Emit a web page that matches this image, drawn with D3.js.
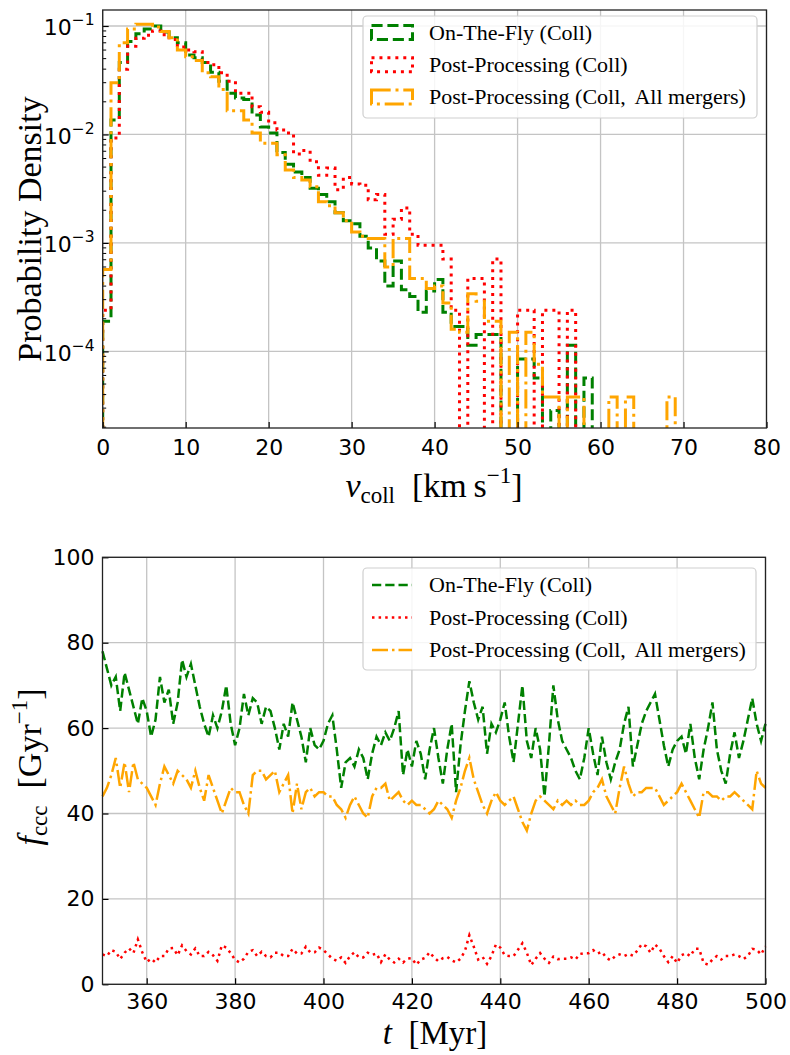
<!DOCTYPE html>
<html>
<head>
<meta charset="utf-8">
<script src="https://cdn.jsdelivr.net/npm/d3@7"></script>
<style>
body { margin: 0; background: #fff; }
svg { display: block; }
.tick text { font-family: "DejaVu Sans", sans-serif; font-size: 22px; fill: #000; }
.tex { font-family: "Liberation Serif", serif; fill: #000; }
</style>
</head>
<body>
<script>
// ---- data ----
// histogram of collision velocities, bins of 1 km/s starting at 0
var binStart = 0, binWidth = 1;
var pdfOnTheFly = [
    1.9e-4, 0.0136, 0.046, 0.072, 0.085, 0.094, 0.100, 0.088, 0.078, 0.070,
    0.054, 0.051, 0.046, 0.0375, 0.031, 0.024, 0.0217, 0.021, 0.0151, 0.0117,
    0.0103, 0.0068, 0.0053, 0.0045, 0.0040, 0.0032, 0.0028, 0.0024, 0.0019, 0.0016,
    0.0015, 0.00115, 0.0009, 0.00068, 0.0004, 0.00068, 0.00037, 0.00032, 0.00023, 0.00036,
    0.00046, 0.00023, 0.00017, 0.00017, 1.14e-4, 1.43e-4, 1.43e-4, 1.43e-4, 0, 0,
    8.5e-5, 8.5e-5, 5.7e-5, 0, 2.85e-5, 0, 1.14e-4, 0, 5.7e-5, 0,
    0, 0, 0, 0, 0, 0, 0, 0, 0, 0
];
var pdfPostProc = [
    2.4e-4, 0.0093, 0.040, 0.065, 0.077, 0.082, 0.090, 0.083, 0.075, 0.064,
    0.060, 0.058, 0.046, 0.044, 0.037, 0.031, 0.024, 0.024, 0.018, 0.016,
    0.0128, 0.0110, 0.0103, 0.0066, 0.0071, 0.0056, 0.0042, 0.0049, 0.0031, 0.0040,
    0.0035, 0.0034, 0.0025, 0.0028, 0.0012, 0.00165, 0.0021, 0.0012, 0.00095, 0.00095,
    0.00095, 0.00071, 0.00024, 0, 0.00047, 0.00047, 0, 0.00071, 0, 0,
    0.00024, 0.00024, 0, 0.00024, 0.00024, 0, 0.00024, 0, 0, 0,
    0, 0, 0, 0, 0, 0, 0, 0, 0, 0
];
var pdfPostProcAll = [
    5.7e-4, 0.030, 0.070, 0.094, 0.104, 0.104, 0.098, 0.089, 0.078, 0.060,
    0.052, 0.048, 0.037, 0.034, 0.026, 0.0165, 0.0165, 0.0136, 0.0103, 0.0083,
    0.0083, 0.0065, 0.0047, 0.0040, 0.0038, 0.0033, 0.0024, 0.0022, 0.0019, 0.0016,
    0.00126, 0.00115, 0.0011, 0.0011, 0.0006, 0.0011, 0.0011, 0.00047, 0.00047, 0.00038,
    0.00040, 0.00028, 0.00016, 0.00015, 0.00034, 0.00029, 0.00019, 0.00019, 0, 0.00015,
    0, 0.00015, 7.6e-5, 3.8e-5, 3.8e-5, 0, 3.8e-5, 3.8e-5, 0, 0,
    0, 3.8e-5, 0, 3.8e-5, 0, 0, 0, 0, 3.8e-5, 0
];

// collision rate vs time, one value per Myr from 350 to 500
var timeMyr = d3.range(350, 501);
var rateOnTheFly = [
    78, 74, 70, 72, 64, 73, 69, 65, 61, 67,
    64, 58, 62, 72, 66, 69, 61, 66, 76, 72,
    75, 70, 65, 61, 58, 63, 60, 64, 70, 61,
    56, 60, 68, 63, 67, 66, 61, 65, 64, 60,
    55, 61, 58, 66, 62, 58, 52, 60, 56, 55,
    57, 61, 63, 55, 46, 52, 53, 51, 55, 53,
    48, 54, 58, 56, 59, 57, 60, 64, 49, 55,
    51, 57, 54, 48, 55, 60, 53, 47, 55, 61,
    45, 56, 64, 71, 66, 62, 65, 54, 61, 59,
    62, 66, 58, 52, 61, 70, 57, 53, 60, 55,
    44, 56, 70, 62, 57, 55, 53, 50, 48, 53,
    60, 54, 49, 58, 52, 48, 52, 55, 61, 65,
    51, 56, 61, 64, 66, 68, 62, 56, 51, 55,
    57, 58, 54, 61, 53, 48, 55, 60, 66, 55,
    50, 47, 54, 59, 53, 57, 62, 67, 61, 57,
    61
];
var ratePostProc = [
    7.0, 6.6, 8.0, 7.6, 5.9, 7.4, 8.4, 7.3, 10.5, 7.5,
    5.2, 6.0, 5.1, 6.6, 6.6, 8.4, 8.5, 6.8, 9.1, 7.8,
    7.0, 8.4, 6.6, 6.6, 7.6, 6.8, 5.5, 9.1, 8.6, 7.3,
    5.7, 5.1, 6.0, 7.6, 8.0, 6.6, 7.6, 6.6, 6.3, 7.4,
    7.4, 6.6, 6.6, 8.3, 7.2, 7.2, 8.8, 7.5, 7.5, 8.6,
    8.0, 7.0, 6.0, 5.5, 6.3, 5.0, 6.6, 7.5, 6.3, 6.3,
    7.4, 6.9, 7.2, 5.2, 7.0, 5.8, 5.1, 6.0, 5.1, 6.0,
    6.1, 4.6, 5.8, 6.2, 7.5, 6.3, 5.4, 6.1, 6.4, 5.6,
    5.1, 6.0, 7.8, 11.5, 8.8, 5.8, 6.4, 4.8, 6.6, 9.3,
    8.6, 6.8, 6.6, 6.6, 8.1, 9.6, 7.4, 4.5, 6.0, 7.3,
    6.0, 5.0, 6.5, 5.9, 6.0, 6.0, 6.3, 5.8, 7.1, 7.3,
    7.3, 8.0, 7.2, 7.6, 6.2, 5.6, 6.6, 7.0, 6.6, 7.1,
    6.7, 7.9, 9.4, 8.9, 7.4, 9.3, 8.4, 6.6, 5.2, 6.6,
    5.0, 6.8, 7.3, 6.6, 8.3, 8.3, 5.0, 4.6, 5.8, 6.6,
    5.8, 6.6, 6.6, 7.0, 6.6, 5.9, 6.6, 8.3, 8.1, 7.0,
    8.9
];
var ratePostProcAll = [
    44, 46, 49, 53, 46, 52, 45, 52, 48, 47,
    46, 44, 42, 47, 51, 49, 47, 50, 49, 48,
    46, 50, 46, 43, 49, 46, 43, 40, 43, 46,
    45, 45, 42, 40, 49, 50, 50, 48, 49, 50,
    45, 47, 49, 40, 47, 41, 45, 46, 44, 45,
    45, 44, 44, 42, 41, 39, 42, 44, 42, 40,
    39, 44, 46, 46, 47, 43, 44, 45, 43, 42,
    43, 42, 42, 41, 40, 41, 43, 42, 41, 39,
    43, 46, 50, 53, 48, 45, 42, 40, 43, 45,
    43, 42, 43, 44, 41, 38, 36, 40, 43, 44,
    43, 42, 41, 43, 42, 43, 42, 43, 42, 42,
    43, 45, 46, 48, 44, 42, 40, 46, 51, 47,
    44, 45, 45, 46, 46, 46, 44, 42, 43, 44,
    45, 47, 45, 43, 41, 39, 45, 45, 44, 44,
    43, 44, 44, 45, 44, 43, 42, 41, 50, 47,
    46
];

var seriesNames = ["On-The-Fly (Coll)", "Post-Processing (Coll)", "Post-Processing (Coll,\u2009 All mergers)"];
var velTicks = [0, 10, 20, 30, 40, 50, 60, 70, 80];
var pdfTicks = [1e-4, 1e-3, 1e-2, 1e-1];
var pdfTickExp = ["\u22124", "\u22123", "\u22122", "\u22121"];
var timeTicks = [360, 380, 400, 420, 440, 460, 480, 500];
var rateTicks = [0, 20, 40, 60, 80, 100];

// ---- styles ----
var colors = ["green", "red", "orange"];
var dashTop = ["11.1,4.8", "3,4.95", "19.2,4.8,3,4.8"];
var dashBot = ["9.25,4", "2.5,4.1", "16,4,2.5,4"];

var svg = d3.select("body").append("svg")
    .attr("width", 790)
    .attr("height", 1055);

// ================= top panel: histogram =================
var pA = { left: 102.7, right: 766.5, top: 10, bottom: 428 };

var xV = d3.scaleLinear().domain([0, 80]).range([pA.left, pA.right]);
var yP = d3.scaleLog().domain([1.967e-5, 0.1404]).range([pA.bottom, pA.top]);

svg.append("clipPath").attr("id", "clipA")
    .append("rect")
    .attr("x", pA.left).attr("y", pA.top)
    .attr("width", pA.right - pA.left).attr("height", pA.bottom - pA.top);

var gridA = svg.append("g").attr("stroke", "#c4c4c4").attr("stroke-width", 1.3);
gridA.selectAll(".gx").data(velTicks).enter().append("line")
    .attr("x1", d => xV(d)).attr("x2", d => xV(d))
    .attr("y1", pA.top).attr("y2", pA.bottom);
gridA.selectAll(".gy").data(pdfTicks).enter().append("line")
    .attr("y1", d => yP(d)).attr("y2", d => yP(d))
    .attr("x1", pA.left).attr("x2", pA.right);

function stepPoints(vals) {
    var pts = [[binStart, 0]];
    vals.forEach(function (v, i) {
        pts.push([binStart + i * binWidth, v]);
        pts.push([binStart + (i + 1) * binWidth, v]);
    });
    pts.push([binStart + vals.length * binWidth, 0]);
    return pts;
}

var histLine = d3.line()
    .x(d => xV(d[0]))
    .y(d => d[1] > 0 ? yP(d[1]) : pA.bottom + 40);

var histG = svg.append("g").attr("clip-path", "url(#clipA)");
[pdfOnTheFly, pdfPostProc, pdfPostProcAll].forEach(function (vals, i) {
    histG.append("path")
        .datum(stepPoints(vals))
        .attr("d", histLine)
        .attr("fill", "none")
        .attr("stroke", colors[i])
        .attr("stroke-width", 3)
        .attr("stroke-dasharray", dashTop[i])
        .attr("stroke-linejoin", "miter");
});

// axes
var axA_x = svg.append("g")
    .attr("transform", "translate(0," + pA.bottom + ")")
    .call(d3.axisBottom(xV).tickValues(velTicks).tickSize(-6).tickSizeOuter(0).tickPadding(8));
axA_x.select(".domain").remove();
axA_x.selectAll(".tick text").attr("dy", "0.85em");

var axA_y = svg.append("g")
    .attr("transform", "translate(" + pA.left + ",0)")
    .call(d3.axisLeft(yP).tickValues(pdfTicks).tickSize(-6).tickSizeOuter(0).tickFormat(""));
axA_y.select(".domain").remove();
axA_y.selectAll(".tick").each(function (d, i) {
    var t = d3.select(this).append("text")
        .attr("x", -8).attr("y", 9)
        .attr("text-anchor", "end")
        .attr("fill", "#000");
    t.append("tspan").text("10");
    t.append("tspan").attr("dy", -10).attr("font-size", 15.5).text(pdfTickExp[i]);
});
// minor ticks on the log axis
var minorP = yP.ticks().filter(d => pdfTicks.indexOf(d) < 0);
svg.append("g").selectAll("line").data(minorP).enter().append("line")
    .attr("x1", pA.left).attr("x2", pA.left + 3.5)
    .attr("y1", d => yP(d)).attr("y2", d => yP(d))
    .attr("stroke", "#000").attr("stroke-width", 1);

svg.selectAll(".tick line").attr("stroke", "#000").attr("stroke-width", 1.2);

svg.append("rect")
    .attr("x", pA.left).attr("y", pA.top)
    .attr("width", pA.right - pA.left).attr("height", pA.bottom - pA.top)
    .attr("fill", "none").attr("stroke", "#222").attr("stroke-width", 1.3);

// labels
var xlabA = svg.append("text").attr("class", "tex")
    .attr("x", 434).attr("y", 497).attr("text-anchor", "middle").attr("font-size", 34);
xlabA.append("tspan").attr("font-style", "italic").text("v");
xlabA.append("tspan").attr("font-size", 23).attr("dy", 6).text("coll");
xlabA.append("tspan").attr("dy", -6).text("\u2002[km\u2009s");
xlabA.append("tspan").attr("font-size", 23).attr("dy", -14).text("\u22121");
xlabA.append("tspan").attr("dy", 14).text("]");

svg.append("text").attr("class", "tex")
    .attr("transform", "translate(41,229) rotate(-90)")
    .attr("text-anchor", "middle").attr("font-size", 34)
    .text("Probability Density");

// legend (patches)
var legA = svg.append("g");
legA.append("rect")
    .attr("x", 363).attr("y", 16).attr("width", 394).attr("height", 102)
    .attr("rx", 4).attr("fill", "#fff").attr("fill-opacity", 0.85)
    .attr("stroke", "#cfcfcf").attr("stroke-width", 1.2);
seriesNames.forEach(function (name, i) {
    var cy = 32.5 + i * 32.2;
    legA.append("rect")
        .attr("x", 371.5).attr("y", cy - 7).attr("width", 41).attr("height", 14)
        .attr("fill", "none").attr("stroke", colors[i]).attr("stroke-width", 3)
        .attr("stroke-dasharray", dashTop[i]);
    legA.append("text").attr("class", "tex")
        .attr("x", 429).attr("y", cy + 7).attr("font-size", 22)
        .text(name);
});

// ================= bottom panel: rate vs time =================
var pB = { left: 102.5, right: 765.5, top: 557.3, bottom: 984.3 };

var xT = d3.scaleLinear().domain([350, 500]).range([pB.left, pB.right]);
var yR = d3.scaleLinear().domain([0, 100]).range([pB.bottom, pB.top]);

var gridB = svg.append("g").attr("stroke", "#c4c4c4").attr("stroke-width", 1.3);
gridB.selectAll(".gx").data(timeTicks).enter().append("line")
    .attr("x1", d => xT(d)).attr("x2", d => xT(d))
    .attr("y1", pB.top).attr("y2", pB.bottom);
gridB.selectAll(".gy").data(rateTicks).enter().append("line")
    .attr("y1", d => yR(d)).attr("y2", d => yR(d))
    .attr("x1", pB.left).attr("x2", pB.right);

var rateLine = d3.line()
    .x((d, i) => xT(timeMyr[i]))
    .y(d => yR(d));

[rateOnTheFly, ratePostProc, ratePostProcAll].forEach(function (vals, i) {
    svg.append("path")
        .datum(vals)
        .attr("d", rateLine)
        .attr("fill", "none")
        .attr("stroke", colors[i])
        .attr("stroke-width", 2.5)
        .attr("stroke-dasharray", dashBot[i]);
});

var axB_x = svg.append("g")
    .attr("transform", "translate(0," + pB.bottom + ")")
    .call(d3.axisBottom(xT).tickValues(timeTicks).tickSize(-6).tickSizeOuter(0).tickPadding(7));
axB_x.select(".domain").remove();
axB_x.selectAll(".tick text").attr("dy", "0.8em");

var axB_y = svg.append("g")
    .attr("transform", "translate(" + pB.left + ",0)")
    .call(d3.axisLeft(yR).tickValues(rateTicks).tickSize(-6).tickSizeOuter(0).tickPadding(8));
axB_y.select(".domain").remove();

svg.selectAll(".tick line").attr("stroke", "#000").attr("stroke-width", 1.2);

svg.append("rect")
    .attr("x", pB.left).attr("y", pB.top)
    .attr("width", pB.right - pB.left).attr("height", pB.bottom - pB.top)
    .attr("fill", "none").attr("stroke", "#222").attr("stroke-width", 1.3);

var xlabB = svg.append("text").attr("class", "tex")
    .attr("x", 435).attr("y", 1044).attr("text-anchor", "middle").attr("font-size", 33);
xlabB.append("tspan").attr("font-style", "italic").text("t");
xlabB.append("tspan").text("\u2002[Myr]");

var ylabB = svg.append("text").attr("class", "tex")
    .attr("transform", "translate(41,767) rotate(-90)")
    .attr("text-anchor", "middle").attr("font-size", 34);
ylabB.append("tspan").attr("font-style", "italic").text("f");
ylabB.append("tspan").attr("font-size", 23).attr("dy", 6).text("ccc");
ylabB.append("tspan").attr("dy", -6).text("\u2002[Gyr");
ylabB.append("tspan").attr("font-size", 23).attr("dy", -14).text("\u22121");
ylabB.append("tspan").attr("dy", 14).text("]");

// legend (lines)
var legB = svg.append("g");
legB.append("rect")
    .attr("x", 363).attr("y", 568).attr("width", 393).attr("height", 102)
    .attr("rx", 4).attr("fill", "#fff").attr("fill-opacity", 0.85)
    .attr("stroke", "#cfcfcf").attr("stroke-width", 1.2);
seriesNames.forEach(function (name, i) {
    var cy = 585 + i * 32.5;
    legB.append("line")
        .attr("x1", 372).attr("x2", 412).attr("y1", cy).attr("y2", cy)
        .attr("stroke", colors[i]).attr("stroke-width", 2.5)
        .attr("stroke-dasharray", dashBot[i]);
    legB.append("text").attr("class", "tex")
        .attr("x", 429).attr("y", cy + 7).attr("font-size", 22)
        .text(name);
});
</script>
</body>
</html>
